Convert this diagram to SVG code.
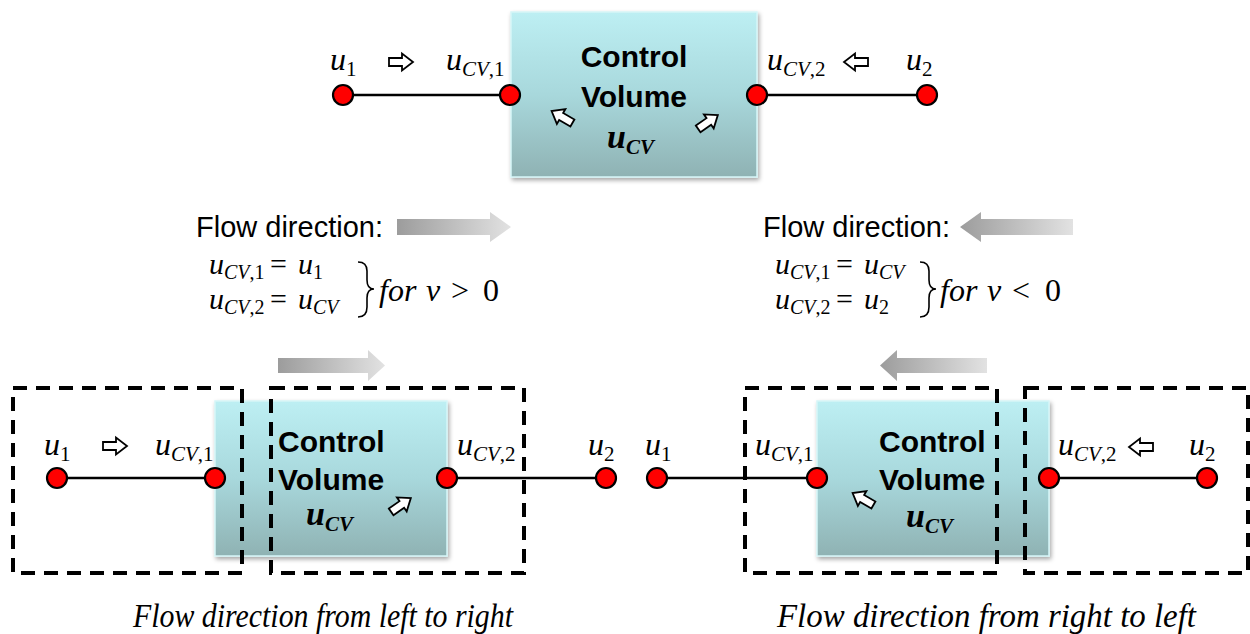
<svg xmlns="http://www.w3.org/2000/svg" width="1250" height="634" viewBox="0 0 1250 634">
<defs>
<linearGradient id="boxg" x1="0" y1="0" x2="0" y2="1">
<stop offset="0" stop-color="#bdeff3"/>
<stop offset="0.5" stop-color="#a8d8dc"/>
<stop offset="1" stop-color="#8fb2b3"/>
</linearGradient>
<linearGradient id="gR" x1="0" y1="0" x2="1" y2="0">
<stop offset="0" stop-color="#9c9c9c"/>
<stop offset="1" stop-color="#e2e2e2"/>
</linearGradient>
<linearGradient id="gL" x1="1" y1="0" x2="0" y2="0">
<stop offset="0" stop-color="#e2e2e2"/>
<stop offset="1" stop-color="#9c9c9c"/>
</linearGradient>
<filter id="sh" x="-10%" y="-10%" width="125%" height="125%">
<feDropShadow dx="1.5" dy="2.5" stdDeviation="2" flood-color="#000" flood-opacity="0.35"/>
</filter>
<path id="ha" d="M-12,-4 L1,-4 L1,-8.5 L12,0 L1,8.5 L1,4 L-12,4 Z" fill="#fff" stroke="#000" stroke-width="1.8" stroke-linejoin="miter"/>
</defs>
<style>
.box{fill:url(#boxg);stroke:#d6f6f8;stroke-width:1.5;filter:url(#sh)}
.node{fill:#ff0000;stroke:#000;stroke-width:2.2}
.wire{stroke:#000;stroke-width:2.5;fill:none}
.dash{fill:none;stroke:#000;stroke-width:4;stroke-dasharray:14 9}
.cv{font-family:"Liberation Sans",Arial,sans-serif;font-weight:bold;font-size:30px;fill:#000}
.m{font-family:"Liberation Serif","Times New Roman",serif;font-size:32px;fill:#000}
.e{font-size:30px}
.b{font-size:34px;font-weight:bold}
.i{font-style:italic}
.s{font-size:21px}
.e .s{font-size:20px}
.fd{font-family:"Liberation Sans",Arial,sans-serif;font-size:29px;fill:#000}
.cap{font-family:"Liberation Serif","Times New Roman",serif;font-style:italic;font-size:34px;fill:#000}
.brace{fill:none;stroke:#000;stroke-width:1.6}
</style>

<!-- connectors -->
<g id="connectors">
<line class="wire" x1="343" y1="95" x2="510" y2="95"/>
<line class="wire" x1="757" y1="95" x2="927" y2="95"/>
<line class="wire" x1="57" y1="478" x2="215" y2="478"/>
<line class="wire" x1="447" y1="478" x2="606" y2="478"/>
<line class="wire" x1="657" y1="478" x2="817" y2="478"/>
<line class="wire" x1="1049" y1="478" x2="1207" y2="478"/>
</g>

<!-- top control volume -->
<g id="cv-top">
<rect class="box" x="511" y="12" width="246" height="165"/>
<text class="cv" x="634" y="67" text-anchor="middle">Control</text>
<text class="cv" x="634" y="107" text-anchor="middle">Volume</text>
<text class="m b" x="607" y="148"><tspan class="i">u</tspan><tspan class="i s" font-size="23px" dy="6">CV</tspan></text>
<use href="#ha" transform="translate(562,117) rotate(-150)"/>
<use href="#ha" transform="translate(708,122) rotate(-35)"/>
</g>
<g id="top-nodes">
<circle class="node" cx="343" cy="95" r="10"/>
<circle class="node" cx="510" cy="95" r="10"/>
<circle class="node" cx="757" cy="95" r="10"/>
<circle class="node" cx="927" cy="95" r="10"/>
<text class="m" x="330" y="70"><tspan class="i">u</tspan><tspan class="s" dy="6">1</tspan></text>
<use href="#ha" transform="translate(401,62)"/>
<text class="m" x="446" y="70"><tspan class="i">u</tspan><tspan class="i s" dy="6">CV</tspan><tspan class="s">,1</tspan></text>
<text class="m" x="767" y="70"><tspan class="i">u</tspan><tspan class="i s" dy="6">CV</tspan><tspan class="s">,2</tspan></text>
<use href="#ha" transform="translate(856,62) rotate(180)"/>
<text class="m" x="906" y="70"><tspan class="i">u</tspan><tspan class="s" dy="6">2</tspan></text>
</g>

<!-- left equations -->
<g id="eq-left">
<text class="fd" x="196" y="237">Flow direction:</text>
<path d="M397,219 L490,219 L490,212 L511,227 L490,242 L490,235 L397,235 Z" fill="url(#gR)"/>
<text class="m e" x="209" y="274"><tspan class="i">u</tspan><tspan class="i s" dy="5">CV</tspan><tspan class="s">,1</tspan></text>
<text class="m e" x="270" y="274">=</text>
<text class="m e" x="298" y="274"><tspan class="i">u</tspan><tspan class="s" dy="5">1</tspan></text>
<text class="m e" x="209" y="309"><tspan class="i">u</tspan><tspan class="i s" dy="5">CV</tspan><tspan class="s">,2</tspan></text>
<text class="m e" x="270" y="309">=</text>
<text class="m e" x="298" y="309"><tspan class="i">u</tspan><tspan class="i s" dy="5">CV</tspan></text>
<path class="brace" d="M358,262 Q367,262 367,271 L367,280 Q367,289 374,289 Q367,289 367,298 L367,307 Q367,317 358,317"/>
<text class="m i" x="379" y="301">for</text>
<text class="m i" x="426" y="301">v</text>
<text class="m" x="451" y="301">&gt;</text>
<text class="m" x="483" y="301">0</text>
</g>

<!-- right equations -->
<g id="eq-right">
<text class="fd" x="763" y="237">Flow direction:</text>
<path d="M1073,219 L981,219 L981,212 L960,227 L981,242 L981,235 L1073,235 Z" fill="url(#gL)"/>
<text class="m e" x="775" y="274"><tspan class="i">u</tspan><tspan class="i s" dy="5">CV</tspan><tspan class="s">,1</tspan></text>
<text class="m e" x="836" y="274">=</text>
<text class="m e" x="864" y="274"><tspan class="i">u</tspan><tspan class="i s" dy="5">CV</tspan></text>
<text class="m e" x="775" y="309"><tspan class="i">u</tspan><tspan class="i s" dy="5">CV</tspan><tspan class="s">,2</tspan></text>
<text class="m e" x="836" y="309">=</text>
<text class="m e" x="864" y="309"><tspan class="i">u</tspan><tspan class="s" dy="5">2</tspan></text>
<path class="brace" d="M920,262 Q929,262 929,271 L929,280 Q929,289 936,289 Q929,289 929,298 L929,307 Q929,317 920,317"/>
<text class="m i" x="940" y="301">for</text>
<text class="m i" x="987" y="301">v</text>
<text class="m" x="1012" y="301">&lt;</text>
<text class="m" x="1045" y="301">0</text>
</g>

<!-- bottom left -->
<g id="cv-left">
<path d="M278,358 L368,358 L368,350 L385,365.5 L368,381 L368,373 L278,373 Z" fill="url(#gR)"/>
<rect class="box" x="215" y="401" width="232" height="155"/>
<text class="cv" x="278" y="452">Control</text>
<text class="cv" x="278" y="490">Volume</text>
<text class="m b" x="306" y="525"><tspan class="i">u</tspan><tspan class="i s" font-size="23px" dy="6">CV</tspan></text>
<use href="#ha" transform="translate(401,505) rotate(-35)"/>
<rect class="dash" x="13" y="388" width="229" height="185"/>
<rect class="dash" x="271" y="388" width="253" height="185"/>
<circle class="node" cx="57" cy="478" r="10"/>
<circle class="node" cx="215" cy="478" r="10"/>
<circle class="node" cx="447" cy="478" r="10"/>
<circle class="node" cx="606" cy="478" r="10"/>
<text class="m" x="44" y="455"><tspan class="i">u</tspan><tspan class="s" dy="6">1</tspan></text>
<use href="#ha" transform="translate(115,446)"/>
<text class="m" x="155" y="455"><tspan class="i">u</tspan><tspan class="i s" dy="6">CV</tspan><tspan class="s">,1</tspan></text>
<text class="m" x="457" y="455"><tspan class="i">u</tspan><tspan class="i s" dy="6">CV</tspan><tspan class="s">,2</tspan></text>
<text class="m" x="588" y="455"><tspan class="i">u</tspan><tspan class="s" dy="6">2</tspan></text>
</g>

<!-- bottom right -->
<g id="cv-right">
<path d="M987,358 L897,358 L897,350 L880,365.5 L897,381 L897,373 L987,373 Z" fill="url(#gL)"/>
<rect class="box" x="817" y="401" width="232" height="155"/>
<text class="cv" x="879" y="452">Control</text>
<text class="cv" x="879" y="490">Volume</text>
<text class="m b" x="906" y="527"><tspan class="i">u</tspan><tspan class="i s" font-size="23px" dy="6">CV</tspan></text>
<use href="#ha" transform="translate(863,499) rotate(-150)"/>
<rect class="dash" x="745" y="388" width="252" height="185"/>
<rect class="dash" x="1025" y="388" width="223" height="185"/>
<circle class="node" cx="657" cy="478" r="10"/>
<circle class="node" cx="817" cy="478" r="10"/>
<circle class="node" cx="1049" cy="478" r="10"/>
<circle class="node" cx="1207" cy="478" r="10"/>
<text class="m" x="645" y="455"><tspan class="i">u</tspan><tspan class="s" dy="6">1</tspan></text>
<text class="m" x="755" y="455"><tspan class="i">u</tspan><tspan class="i s" dy="6">CV</tspan><tspan class="s">,1</tspan></text>
<text class="m" x="1058" y="455"><tspan class="i">u</tspan><tspan class="i s" dy="6">CV</tspan><tspan class="s">,2</tspan></text>
<use href="#ha" transform="translate(1141,447) rotate(180)"/>
<text class="m" x="1189" y="455"><tspan class="i">u</tspan><tspan class="s" dy="6">2</tspan></text>
</g>

<g id="captions">
<text class="cap" x="133" y="627" textLength="380" lengthAdjust="spacingAndGlyphs">Flow direction from left to right</text>
<text class="cap" x="777" y="627" textLength="419" lengthAdjust="spacingAndGlyphs">Flow direction from right to left</text>
</g>
</svg>
